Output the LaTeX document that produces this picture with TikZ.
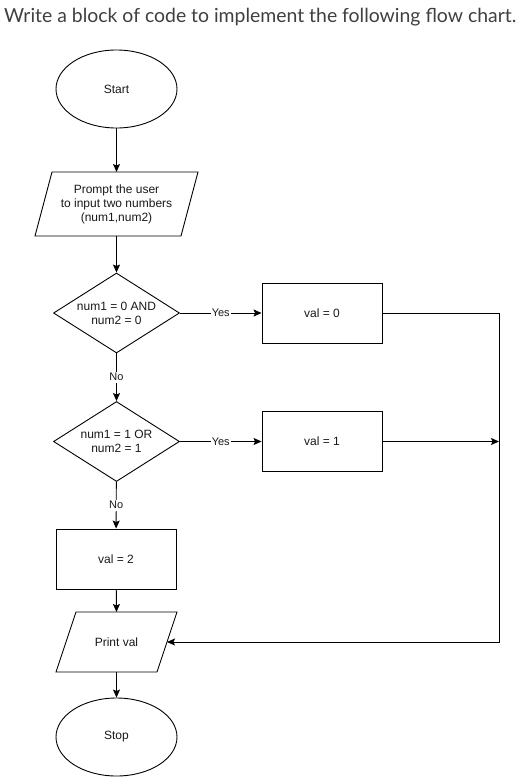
\documentclass[tikz,border=0pt]{standalone}
\usepackage{fontspec}
\setmainfont{Liberation Sans}
\newfontfamily\titlefont{Lato}
\usetikzlibrary{shapes.geometric,arrows.meta}
\begin{document}
\begin{tikzpicture}[x=1pt,y=-1pt,
  every node/.style={font=\fontsize{12}{14}\selectfont, text=black!90},
  line/.style={draw=black, line width=0.9pt},
  arr/.style={line, -{Stealth[length=8pt,width=7pt,inset=1.5pt]}},
  term/.style={ellipse, draw, line width=0.9pt, minimum width=121pt, minimum height=78pt, inner sep=0pt},
  proc/.style={rectangle, draw, line width=0.9pt, minimum width=120pt, minimum height=60pt, inner sep=0pt},
  dec/.style={diamond, draw, line width=0.9pt, shape aspect=1.6, minimum width=126pt, minimum height=80pt, inner sep=0pt, align=center},
  lbl/.style={fill=white, inner xsep=1pt, inner ysep=1.5pt, font=\fontsize{11}{13}\selectfont},
  txt/.style={align=center, inner sep=0pt}
]
\useasboundingbox (0,0) rectangle (521,780);
\fill[white] (0,0) rectangle (521,780);

\node[anchor=base west, inner sep=0pt, text=black!75, font=\titlefont\fontsize{19.4}{23}\selectfont] (title) at (4,22) {Write a block of code to implement the following flow chart.};

\node[term] (start) at (116.5,89) {Start};

% input parallelogram
\node[txt] (inp) at (116.5,204) {Prompt the user\\to input two numbers\\(num1,num2)};
\draw[line] (52,172) -- (198,172) -- (181,236) -- (35,236) -- cycle;
\coordinate (inptop) at (116.5,172);
\coordinate (inpbot) at (116.5,236);

\node[dec] (d1) at (116.5,313) {num1 = 0 AND\\num2 = 0};
\node[proc] (v0) at (322,313) {val = 0};

\node[dec] (d2) at (116.5,441.5) {num1 = 1 OR\\num2 = 1};
\node[proc] (v1) at (322,441.5) {val = 1};

\node[proc] (v2) at (116,559) {val = 2};

% print parallelogram
\node[txt] (pv) at (116.5,642) {Print val};
\draw[line] (76,612) -- (177,612) -- (157,672) -- (56,672) -- cycle;
\coordinate (pvtop) at (116.5,612);
\coordinate (pvbot) at (116.5,672);
\coordinate (pvright) at (167,642);

\node[term] (stop) at (116.5,737) {Stop};

\coordinate (c0) at (499,313);
\coordinate (c1) at (499,441.5);
\coordinate (c2) at (499,642);

% connectors
\draw[arr] (start) -- (inptop);
\draw[arr] (inpbot) -- (d1);
\draw[arr] (d1) -- node[lbl] {Yes} (v0);
\draw[arr] (d1) -- node[lbl, pos=0.5] {No} (d2);
\draw[arr] (d2) -- node[lbl] {Yes} (v1);
\draw[arr] (d2) -- node[lbl, pos=0.5] {No} (v2);
\draw[arr] (v2) -- (pvtop);
\draw[arr] (pvbot) -- (stop);
\draw[arr] (v1) -- (c1);
\draw[arr] (v0) -- (c0) -- (c2) -- (pvright);
\end{tikzpicture}
\end{document}
